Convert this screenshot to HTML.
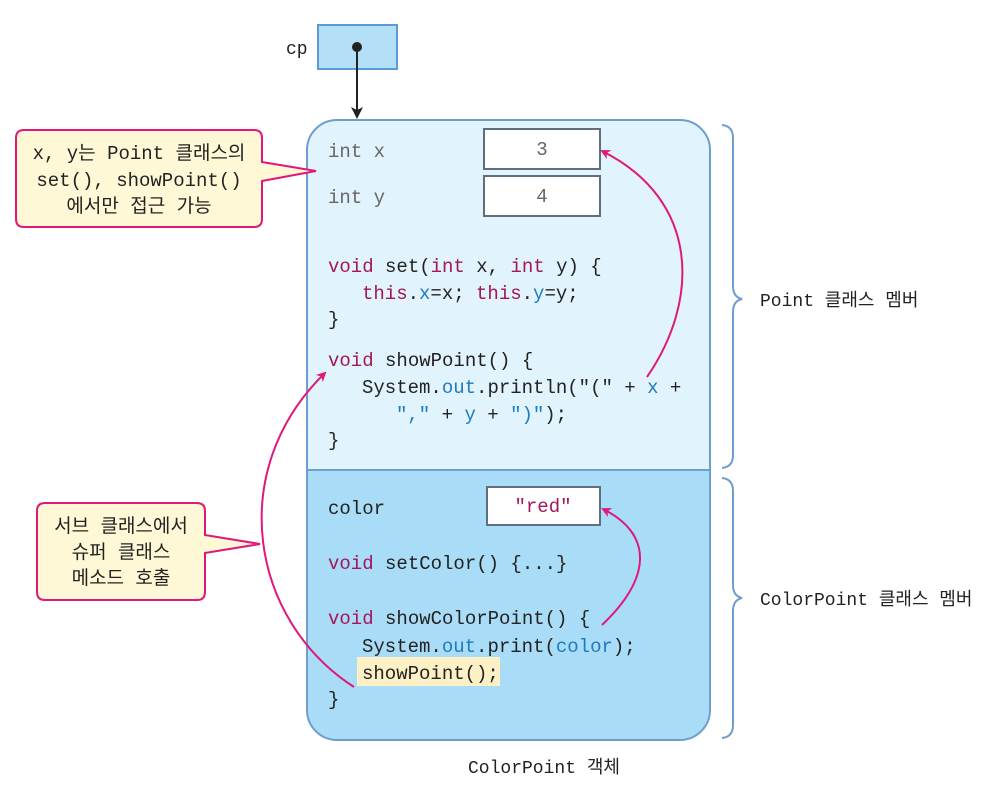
<!DOCTYPE html>
<html><head><meta charset="utf-8"><style>
html,body{margin:0;padding:0;background:#fff;}
svg{display:block;}
.m{font-family:"Liberation Mono","Noto Sans CJK KR",monospace;font-size:19px;fill:#222;}
.k{fill:#a3165c;}
.b{fill:#1f7bc0;}
.g{fill:#666;}
.s{font-family:"Liberation Mono","Noto Sans CJK KR",monospace;font-size:18px;fill:#222;}
.c{font-family:"Liberation Mono","Noto Sans CJK KR",monospace;font-size:19px;fill:#222;}
</style></head><body>
<svg width="994" height="804" viewBox="0 0 994 804" xmlns="http://www.w3.org/2000/svg">
<defs>
<marker id="ap" markerWidth="10" markerHeight="10" refX="8" refY="5" orient="auto" markerUnits="userSpaceOnUse"><path d="M0,0 L10,5 L0,10 L3,5z" fill="#e0187a"/></marker>
<marker id="ak" markerWidth="12" markerHeight="12" refX="10" refY="6" orient="auto" markerUnits="userSpaceOnUse"><path d="M0,0 L12,6 L0,12 L3,6z" fill="#222"/></marker>
<clipPath id="cl"><rect x="307" y="120" width="403" height="620" rx="30"/></clipPath>
</defs>
<text x="286" y="54" class="s" font-size="19">cp</text>
<rect x="318" y="25" width="79" height="44" fill="#b3dff7" stroke="#5b9bd5" stroke-width="2"/>
<circle cx="357" cy="47" r="5" fill="#222"/>
<line x1="357" y1="47" x2="357" y2="117" stroke="#222" stroke-width="2" marker-end="url(#ak)"/>
<g clip-path="url(#cl)">
<rect x="307" y="120" width="403" height="350" fill="#e1f3fd"/>
<rect x="307" y="470" width="403" height="270" fill="#a9dcf6"/>
</g>
<line x1="307" y1="470" x2="710" y2="470" stroke="#6f9dce" stroke-width="2"/>
<rect x="307" y="120" width="403" height="620" rx="30" fill="none" stroke="#6f9dce" stroke-width="2"/>
<rect x="484" y="129" width="116" height="40" fill="#fff" stroke="#5f6f7d" stroke-width="2"/>
<rect x="484" y="176" width="116" height="40" fill="#fff" stroke="#5f6f7d" stroke-width="2"/>
<rect x="487" y="487" width="113" height="38" fill="#fff" stroke="#5f6f7d" stroke-width="2"/>
<text x="542" y="155" class="m g" text-anchor="middle">3</text>
<text x="542" y="202" class="m g" text-anchor="middle">4</text>
<text x="543" y="512" class="m k" text-anchor="middle">"red"</text>
<rect x="357" y="657" width="143" height="29" fill="#fdf0c4"/>
<text x="328" y="157" class="m g">int x</text>
<text x="328" y="203" class="m g">int y</text>
<text x="328" y="272" class="m"><tspan class="k">void</tspan> set(<tspan class="k">int</tspan> x, <tspan class="k">int</tspan> y) {</text>
<text x="362" y="299" class="m"><tspan class="k">this</tspan>.<tspan class="b">x</tspan>=x; <tspan class="k">this</tspan>.<tspan class="b">y</tspan>=y;</text>
<text x="328" y="325" class="m">}</text>
<text x="328" y="366" class="m"><tspan class="k">void</tspan> showPoint() {</text>
<text x="362" y="393" class="m">System.<tspan class="b">out</tspan>.println("(" + <tspan class="b">x</tspan> +</text>
<text x="396" y="420" class="m"><tspan class="b">","</tspan> + <tspan class="b">y</tspan> + <tspan class="b">")"</tspan>);</text>
<text x="328" y="446" class="m">}</text>
<text x="328" y="514" class="m">color</text>
<text x="328" y="569" class="m"><tspan class="k">void</tspan> setColor() {...}</text>
<text x="328" y="624" class="m"><tspan class="k">void</tspan> showColorPoint() {</text>
<text x="362" y="652" class="m">System.<tspan class="b">out</tspan>.print(<tspan class="b">color</tspan>);</text>
<text x="362" y="679" class="m">showPoint();</text>
<text x="328" y="705" class="m">}</text>
<path d="M647,377 C700,300 700,200 602,151" fill="none" stroke="#e0187a" stroke-width="2" marker-end="url(#ap)"/>
<path d="M602,625 C650,580 655,535 603,509" fill="none" stroke="#e0187a" stroke-width="2" marker-end="url(#ap)"/>
<path d="M354,687 C250,620 225,470 325,373" fill="none" stroke="#e0187a" stroke-width="2" marker-end="url(#ap)"/>
<path d="M24,130 H254 Q262,130 262,138 V162 L316,171 L262,181 V219 Q262,227 254,227 H24 Q16,227 16,219 V138 Q16,130 24,130 Z" fill="#fff8d6" stroke="#e0187a" stroke-width="2"/>
<text x="139" y="159" class="c" text-anchor="middle">x, y는 Point 클래스의</text>
<text x="139" y="186" class="c" text-anchor="middle">set(), showPoint()</text>
<text x="139" y="212" class="c" text-anchor="middle">에서만 접근 가능</text>
<path d="M45,503 H197 Q205,503 205,511 V535 L260,544 L205,553 V592 Q205,600 197,600 H45 Q37,600 37,592 V511 Q37,503 45,503 Z" fill="#fff8d6" stroke="#e0187a" stroke-width="2"/>
<text x="121" y="532" class="c" text-anchor="middle">서브 클래스에서</text>
<text x="121" y="558" class="c" text-anchor="middle">슈퍼 클래스</text>
<text x="121" y="584" class="c" text-anchor="middle">메소드 호출</text>
<path d="M722,125 Q733,126 733,138 V286 Q733,297 742,299 Q733,301 733,312 V455 Q733,467 722,468" fill="none" stroke="#6f9dce" stroke-width="2"/>
<path d="M722,478 Q733,479 733,491 V585 Q733,596 742,598 Q733,600 733,611 V725 Q733,737 722,738" fill="none" stroke="#6f9dce" stroke-width="2"/>
<text x="760" y="306" class="s">Point 클래스 멤버</text>
<text x="760" y="605" class="s">ColorPoint 클래스 멤버</text>
<text x="468" y="773" class="s">ColorPoint 객체</text>
</svg>
</body></html>
